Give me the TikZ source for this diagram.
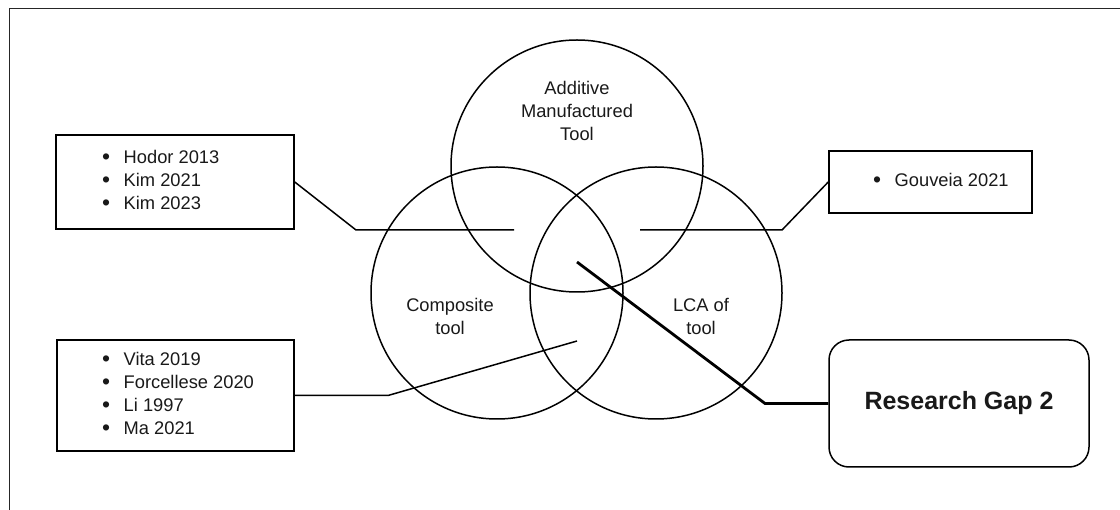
\documentclass[tikz,border=0pt]{standalone}
\usepackage{fontspec}
\setmainfont{Liberation Sans}
\begin{document}
\begin{tikzpicture}[x=1pt,y=-1pt,
  every node/.style={font=\fontsize{18.3}{23}\selectfont, inner sep=0pt, text=black!90},
  set/.style={draw, circle, line width=1.5pt, minimum size=252pt},
  listbox/.style={draw, rectangle, line width=1.5pt},
  gapbox/.style={draw, rectangle, rounded corners=20pt, line width=1.5pt,
                 font=\fontsize{25}{30}\selectfont\bfseries},
  setlabel/.style={align=center},
  link/.style={line width=1.5pt},
  gaplink/.style={line width=2.8pt},
  frameline/.style={line width=1.8pt, color=black!85}
]
\useasboundingbox (0,0) rectangle (1120,510);

% outer frame (top and left edges)
\draw[frameline] (9.5,520) -- (9.5,8.5) -- (1130,8.5);

% the three sets
\node[set] (am)  at (577,166) {};
\node[set] (ct)  at (497,293) {};
\node[set] (lca) at (656,293) {};

\node[setlabel] (amlab)  at (577,111) {Additive\\Manufactured\\Tool};
\node[setlabel] (ctlab)  at (450,316.5) {Composite\\tool};
\node[setlabel] (lcalab) at (701,316.5) {LCA of\\tool};

% reference lists
\newcommand{\bul}{\raisebox{-0.07em}{\scalebox{1.25}{\textbullet}}}
\newcommand{\reflist}[1]{\begin{tabular}{@{}l@{\hspace{13.5pt}}l@{}}#1\end{tabular}}

\node[listbox, minimum width=238pt, minimum height=94pt] (hb) at (175,182) {};
\node[anchor=west] (hbt) at (102,182)
  {\reflist{\bul & Hodor 2013\\ \bul & Kim 2021\\ \bul & Kim 2023}};

\node[listbox, minimum width=203pt, minimum height=62pt] (gv) at (930.5,182) {};
\node[anchor=west] (gvt) at (873,182)
  {\reflist{\bul & Gouveia 2021}};

\node[listbox, minimum width=237pt, minimum height=111pt] (vt) at (175.5,395.5) {};
\node[anchor=west] (vtt) at (102,395.5)
  {\reflist{\bul & Vita 2019\\ \bul & Forcellese 2020\\ \bul & Li 1997\\ \bul & Ma 2021}};

% research gap
\node[gapbox, minimum width=260pt, minimum height=127pt] (rg) at (959,403.5) {Research Gap 2};

% connector ends inside the diagram
\coordinate (hbend) at (514,230);
\coordinate (gvend) at (640,230);
\coordinate (vtend) at (577,341);
\coordinate (rgend) at (577,262);

\draw[link] (hb.east) -- (356,230) -- (hbend);
\draw[link] (gv.west) -- (782,230) -- (gvend);
\draw[link] (vt.east) -- (388,395.5) -- (vtend);
\draw[gaplink] (rg.west) -- (765,403.5) -- (rgend);
\end{tikzpicture}
\end{document}
